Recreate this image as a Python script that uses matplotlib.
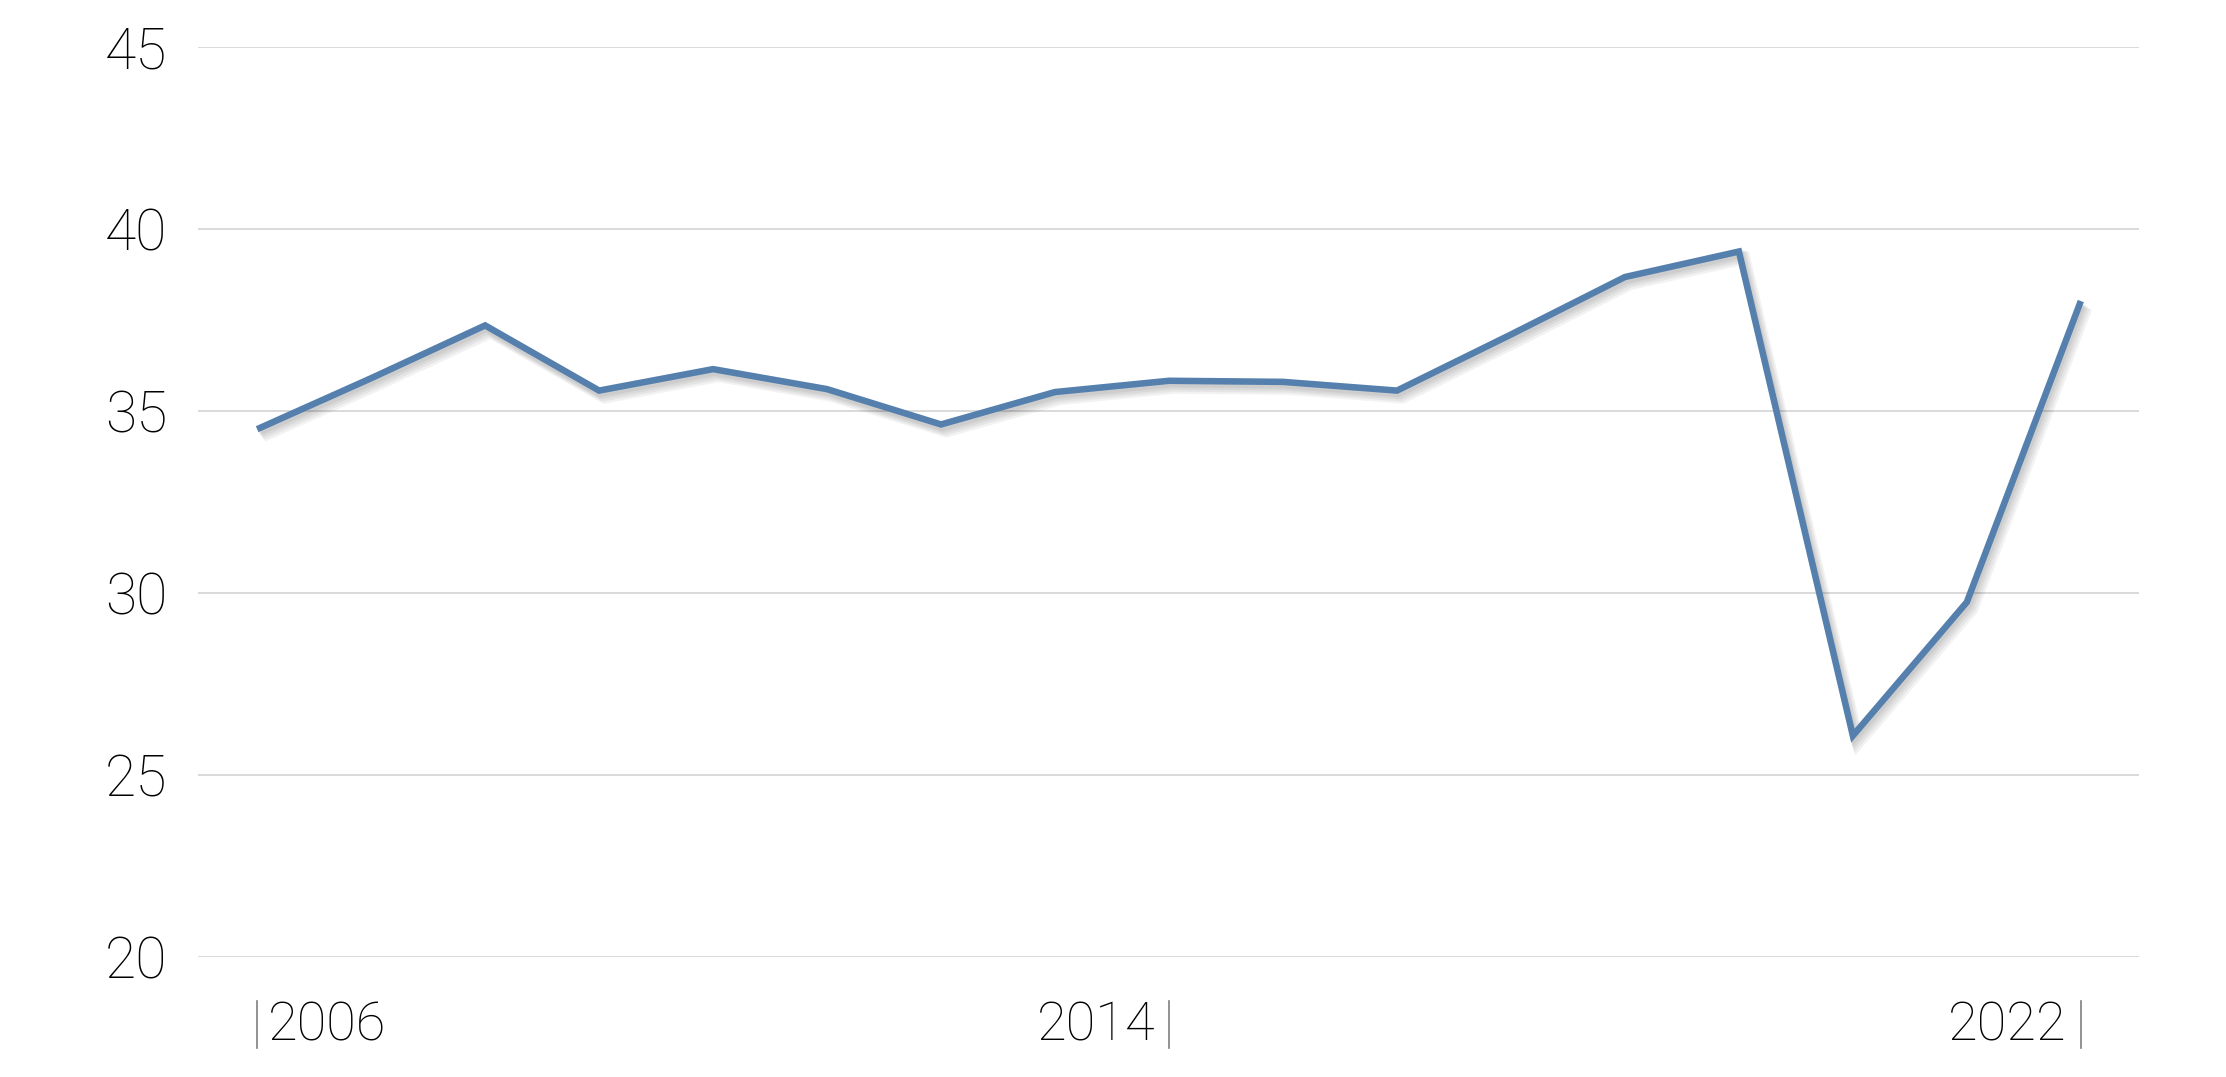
import matplotlib
matplotlib.use("Agg")
import matplotlib.pyplot as plt
import matplotlib.patheffects as pe
from matplotlib import transforms

# data
years = list(range(2006, 2023))
values = [34.5, 35.9, 37.35, 35.56, 36.15, 35.6, 34.63, 35.52, 35.83,
          35.8, 35.56, 37.1, 38.68, 39.38, 26.08, 29.75, 38.02]
y_ticks = [20, 25, 30, 35, 40, 45]
x_labels = [2006, 2014, 2022]
x_label_side = ["right", "left", "left"]  # side of the text relative to the bar

font = dict(family=["Roboto", "DejaVu Sans"], weight="light", stretch="condensed")

fig = plt.figure(figsize=(22.26, 10.77), dpi=100)
ax = fig.add_axes([0.0889, 0.1114, 0.872, 0.845])

shadow = [pe.SimpleLineShadow(offset=(o, -o - 1), shadow_color="#000000", alpha=0.05,
                              linewidth=4.7 + o) for o in (1, 2, 3, 4)]
ax.plot(years, values, color="#5580ad", lw=4.7, solid_joinstyle="miter",
        solid_capstyle="butt", path_effects=shadow + [pe.Normal()], zorder=3)

ax.set_xlim(2005.48, 2022.51)
ax.set_ylim(20, 45)
ax.set_yticks(y_ticks)
ax.set_yticklabels([str(t) for t in y_ticks], fontsize=41, **font)
ax.tick_params(axis="y", length=0, pad=22)
ax.set_xticks([])
ax.grid(axis="y", color="#d9d9d9", lw=1.4)
ax.set_axisbelow(True)
for s in ax.spines.values():
    s.set_visible(False)

# year labels with small bar at the data position
trans = transforms.blended_transform_factory(ax.transData, ax.transAxes)
for yr, side in zip(x_labels, x_label_side):
    ax.plot([yr, yr], [-0.048, -0.1], transform=trans, color="#7f7f7f",
            lw=1.2, clip_on=False)
    if side == "right":
        ax.annotate(str(yr), (yr, -0.076), xycoords=trans, xytext=(8, 0),
                    textcoords="offset points", ha="left", va="center",
                    fontsize=39, **font)
    else:
        ax.annotate(str(yr), (yr, -0.076), xycoords=trans, xytext=(-10, 0),
                    textcoords="offset points", ha="right", va="center",
                    fontsize=39, **font)

fig.savefig("out.png", dpi=100)
